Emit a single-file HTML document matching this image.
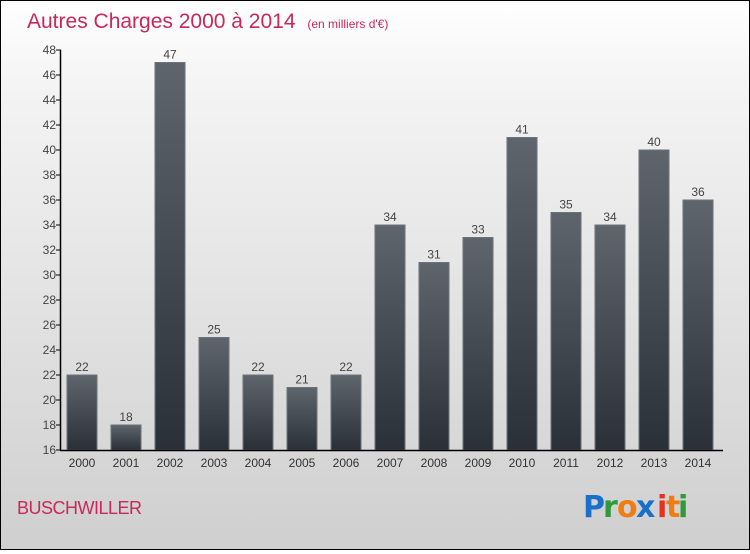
<!DOCTYPE html>
<html><head><meta charset="utf-8"><style>
html,body{margin:0;padding:0}
body{width:750px;height:550px;overflow:hidden;font-family:"Liberation Sans",sans-serif}
#wrap{position:absolute;left:0;top:0;width:748px;height:548px;border:1px solid #000;background:linear-gradient(#ffffff,#f4f4f4 15%,#cfcfcf)}
</style></head><body>
<div id="wrap">
<svg width="748" height="548" xmlns="http://www.w3.org/2000/svg">
<defs><linearGradient id="bg" x1="0" y1="0" x2="0" y2="1"><stop offset="0" stop-color="#5e656c"/><stop offset="1" stop-color="#2a3038"/></linearGradient></defs>
<text x="26" y="27" font-size="21" fill="#c8285a">Autres Charges 2000 à 2014 <tspan font-size="12" dx="6">(en milliers d'€)</tspan></text>
<g id="plot"></g>
<text x="16" y="513" font-size="18" fill="#c8285a" letter-spacing="-0.5">BUSCHWILLER</text>
<g font-size="30" font-weight="bold" font-family="'DejaVu Sans',sans-serif">
<text x="582" y="516" fill="#1a6fc9">P</text><text x="602" y="516" fill="#2e9a3a">r</text><text x="616" y="516" fill="#f07d12">o</text><text x="635" y="516" fill="#1a6fc9">x</text><text x="656" y="516" fill="#e5321f">i</text><text x="665" y="516" fill="#f07d12">t</text><text x="677" y="516" fill="#2e9a3a">i</text>
</g>
</svg></div>
<script>
const years=["2000","2001","2002","2003","2004","2005","2006","2007","2008","2009","2010","2011","2012","2013","2014"];
const values=[22,18,47,25,22,21,22,34,31,33,41,35,34,40,36];
const yTicks=[16,18,20,22,24,26,28,30,32,34,36,38,40,42,44,46,48];
const NS="http://www.w3.org/2000/svg";
const g=document.getElementById('plot');
const y=v=>449-(v-16)*12.5;
const x=i=>81+i*44;
function mk(t,a,txt){const e=document.createElementNS(NS,t);for(const k in a)e.setAttribute(k,a[k]);if(txt!==undefined)e.textContent=txt;g.appendChild(e);return e;}
values.forEach((v,i)=>{
 const r=mk('rect',{x:x(i)-15,y:y(v),width:30,height:y(16)-y(v),fill:'url(#bg)',stroke:'#6c737a','stroke-width':1});
 
 
 const t=mk('text',{x:x(i),y:y(v)-4,'font-size':12,fill:'#444','text-anchor':'middle'},String(v));
 
 
 const xl=mk('text',{x:x(i),y:466,'font-size':12,fill:'#333','text-anchor':'middle'},years[i]);
 
 
});
yTicks.forEach(v=>{
 const l=mk('line',{x1:55,x2:60,y1:y(v),y2:y(v),stroke:'#000'});
 
 
 const t=mk('text',{x:55,y:y(v)+4,'font-size':12,fill:'#444','text-anchor':'end'},String(v));
 
 
});
const ya=mk('line',{x1:59.5,x2:59.5,y1:y(48),y2:450,stroke:'#000','stroke-width':1.5});


const xa=mk('line',{x1:59,x2:722,y1:449.5,y2:449.5,stroke:'#000','stroke-width':1.5});


</script>
</body></html>
